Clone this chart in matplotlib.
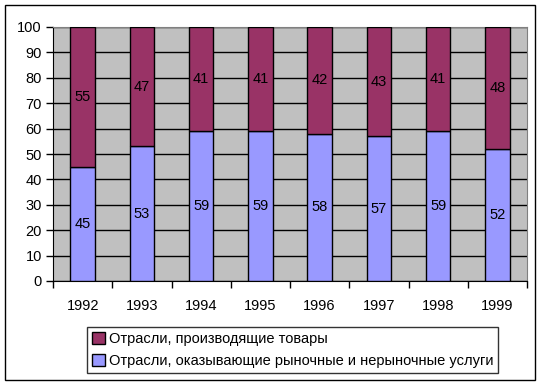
import numpy as np
import matplotlib.pyplot as plt
from matplotlib.patches import Rectangle

plt.rcParams['font.family'] = ['Liberation Sans', 'DejaVu Sans']

years = ['1992', '1993', '1994', '1995', '1996', '1997', '1998', '1999']
services = [45, 53, 59, 59, 58, 57, 59, 52]
goods = [55, 47, 41, 41, 42, 43, 41, 48]

goods_label = 'Отрасли, производящие товары'
services_label = 'Отрасли, оказывающие рыночные и нерыночные услуги'

fs = 10.5

fig = plt.figure(figsize=(5.41, 3.85), dpi=100)
fig.patches.append(Rectangle((5 / 541, 5 / 385), 530 / 541, 375 / 385,
                             transform=fig.transFigure, fill=False,
                             edgecolor='black', linewidth=1))

ax = fig.add_axes([53 / 541, 1 - 281 / 385, 474 / 541, 254 / 385])
ax.set_facecolor('#C0C0C0')

x = np.arange(len(years))
w = 0.41
b1 = ax.bar(x, services, w, color='#9999FF', edgecolor='black', linewidth=1,
            label=services_label, zorder=3)
b2 = ax.bar(x, goods, w, bottom=services, color='#993366', edgecolor='black',
            linewidth=1, label=goods_label, zorder=3)
ax.bar_label(b1, label_type='center', fontsize=fs)
ax.bar_label(b2, label_type='center', fontsize=fs)

ax.set_xlim(-0.5, len(years) - 0.5)
ax.set_ylim(0, 100)
ax.set_yticks(range(0, 101, 10))
ax.yaxis.grid(True, color='black', linewidth=1, zorder=1)
ax.set_axisbelow(True)

ax.set_xticks(x)
ax.set_xticklabels(years)
ax.set_xticks(np.arange(-0.5, len(years)), minor=True)
ax.tick_params(axis='x', which='major', length=0, pad=13, labelsize=fs)
ax.tick_params(axis='x', which='minor', length=5, width=1, direction='out')
ax.tick_params(axis='y', length=5, width=1, direction='out', labelsize=fs, pad=3)

for s in ['top', 'right']:
    ax.spines[s].set_color('#808080')
ax.spines['left'].set_color('black')
ax.spines['bottom'].set_color('black')

handles = [b2, b1]
leg = fig.legend(handles, [goods_label, services_label],
                 loc='upper left', bbox_to_anchor=(87 / 541, 1 - 327 / 385),
                 frameon=True, fancybox=False, edgecolor='black',
                 fontsize=fs, handlelength=0.85, handleheight=0.85,
                 handletextpad=0.3, borderpad=0.35, labelspacing=0.55,
                 borderaxespad=0)
leg.get_frame().set_linewidth(1)

fig.savefig('out.png', dpi=100)
